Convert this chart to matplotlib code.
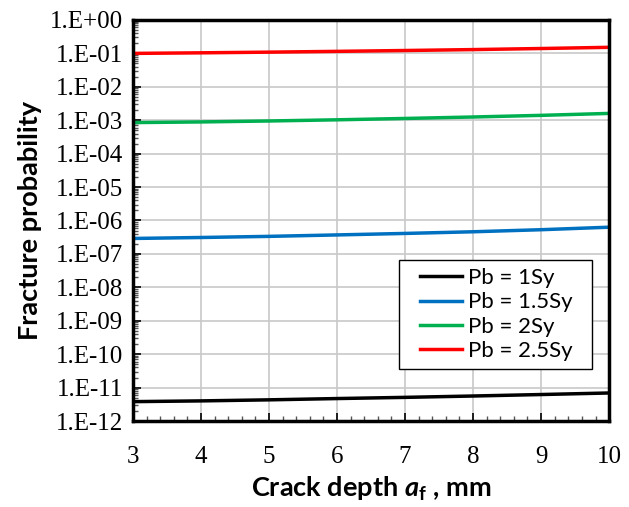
import math
import matplotlib
matplotlib.use("Agg")
import matplotlib.pyplot as plt
from matplotlib.patches import Rectangle
from matplotlib.ticker import LogLocator, FixedLocator, MultipleLocator, FuncFormatter

plt.rcParams['mathtext.fontset'] = 'custom'
plt.rcParams['mathtext.rm'] = 'Lato'
plt.rcParams['mathtext.bf'] = 'Lato:bold'
plt.rcParams['mathtext.bfit'] = 'Lato:italic:bold'

# crack depth, mm
depth = [3, 4, 5, 6, 7, 8, 9, 10]
# fracture probability for each bending load level
p_1sy = [3.8e-12, 4.0e-12, 4.3e-12, 4.7e-12, 5.1e-12, 5.6e-12, 6.2e-12, 6.9e-12]
p_15sy = [2.9e-7, 3.1e-7, 3.35e-7, 3.7e-7, 4.1e-7, 4.6e-7, 5.3e-7, 6.3e-7]
p_2sy = [8.5e-4, 8.9e-4, 9.5e-4, 1.03e-3, 1.13e-3, 1.25e-3, 1.4e-3, 1.6e-3]
p_25sy = [0.100, 0.104, 0.109, 0.115, 0.122, 0.130, 0.140, 0.152]
labels = ["Pb = 1Sy", "Pb = 1.5Sy", "Pb = 2Sy", "Pb = 2.5Sy"]
colors = ["#000000", "#0070C0", "#00B050", "#FF0000"]

fig = plt.figure(figsize=(6.29, 5.07), dpi=100)
ax = fig.add_axes([0.2114, 0.1696, 0.757, 0.791])

for ys, lab, c in zip([p_1sy, p_15sy, p_2sy, p_25sy], labels, colors):
    ax.plot(depth, ys, color=c, lw=2.5, label=lab)

ax.set_yscale('log')
ax.set_xlim(3, 10)
ax.set_ylim(1e-12, 1)
ax.xaxis.set_major_locator(MultipleLocator(1))
ax.xaxis.set_minor_locator(MultipleLocator(0.2))
ax.yaxis.set_major_locator(FixedLocator([10.0 ** k for k in range(-12, 1)]))
ax.yaxis.set_minor_locator(LogLocator(base=10, subs=range(2, 10), numticks=20))
ax.yaxis.set_major_formatter(FuncFormatter(
    lambda v, p: "1.E+00" if v >= 1 else "1.E-%02d" % round(-math.log10(v))))
ax.yaxis.set_minor_formatter(FuncFormatter(lambda v, p: ""))

ax.grid(True, which='major', color='#c8c8c8', lw=1.2)
ax.set_axisbelow(True)
ax.tick_params(which='both', direction='in', top=False, right=False)
ax.tick_params(which='major', length=6, width=1.2, labelsize=18)
ax.tick_params(axis='y', which='major', pad=7)
ax.tick_params(axis='x', which='major', pad=18)
ax.tick_params(which='minor', length=3.5, width=1, color='#555555')
for lab in ax.get_xticklabels() + ax.get_yticklabels():
    lab.set_family('Liberation Serif')
for s in ax.spines.values():
    s.set_linewidth(2.5)
    s.set_color('black')

ax.set_ylabel("Fracture probability", family='Lato', fontweight='bold', fontsize=19.5, labelpad=6)
ax.set_xlabel(r"Crack depth $\mathbfit{a}_\mathbf{f}$ , mm", family='Lato', fontweight='bold',
              fontsize=19.5, labelpad=5)

# legend box drawn as in the original (wide left padding)
ax.add_patch(Rectangle((0.559, 0.130), 0.405, 0.271, transform=ax.transAxes,
                       facecolor='white', edgecolor='black', lw=1.0, zorder=4))
leg = ax.legend(loc='center left', bbox_to_anchor=(0.603, 0.2655), prop={'family': 'Lato', 'size': 16},
                frameon=False, handlelength=1.9, handletextpad=0.25, borderpad=0,
                labelspacing=0.2, borderaxespad=0)
leg.set_zorder(5)

fig.savefig("out.png", dpi=100)
